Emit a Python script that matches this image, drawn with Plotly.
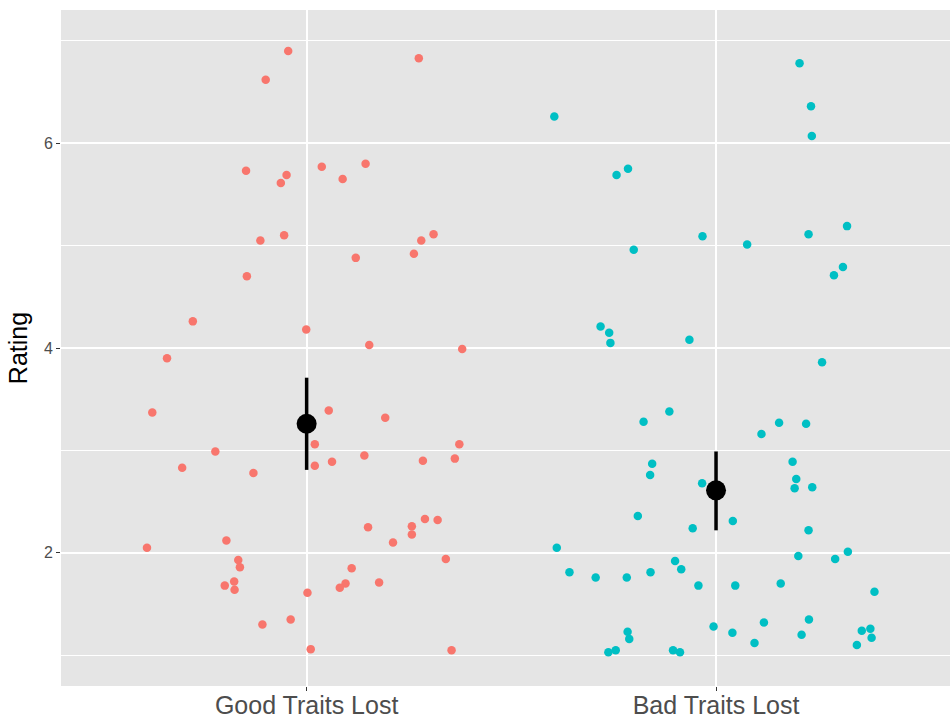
import plotly.graph_objects as go

categories = ["Good Traits Lost", "Bad Traits Lost"]
category_pos = [1, 2]

good_rating = [6.90, 6.83, 6.62, 5.73, 5.69, 5.61, 5.77, 5.80, 5.65, 5.10,
               5.05, 5.11, 5.05, 4.92, 4.88, 4.70, 4.26, 4.18, 3.90, 4.03,
               3.99, 3.37, 3.39, 3.32, 3.06, 2.99, 2.83, 2.85, 2.89, 2.78,
               3.06, 2.95, 2.90, 2.92, 2.05, 2.12, 1.93, 1.86, 1.72, 1.68,
               1.64, 1.85, 1.70, 1.66, 1.61, 1.35, 1.30, 1.06, 2.25, 2.10,
               2.26, 2.18, 2.33, 2.32, 1.94, 1.71, 1.05]
good_jitter = [-0.045, 0.274, -0.100, -0.148, -0.049, -0.063, 0.037, 0.144, 0.088, -0.055,
               -0.113, 0.310, 0.280, 0.262, 0.120, -0.146, -0.278, -0.001, -0.341, 0.153,
               0.380, -0.377, 0.054, 0.192, 0.020, -0.223, -0.304, 0.020, 0.062, -0.130,
               0.373, 0.141, 0.284, 0.362, -0.390, -0.196, -0.167, -0.163, -0.177, -0.200,
               -0.176, 0.110, 0.095, 0.081, 0.002, -0.039, -0.108, 0.010, 0.150, 0.211,
               0.257, 0.257, 0.289, 0.320, 0.340, 0.177, 0.354]

bad_rating = [6.26, 5.69, 5.75, 6.78, 6.36, 6.07, 5.19, 5.11, 5.09, 4.96,
              4.21, 4.15, 4.05, 3.28, 2.87, 2.76, 5.01, 4.79, 4.71, 4.08,
              3.86, 3.38, 3.27, 3.26, 3.16, 2.89, 2.36, 2.05, 1.81, 1.76,
              1.76, 1.81, 1.23, 1.16, 1.03, 1.05, 2.68, 2.72, 2.63, 2.64,
              2.24, 2.31, 2.22, 1.97, 1.94, 2.01, 1.92, 1.84, 1.68, 1.68,
              1.70, 1.62, 1.28, 1.22, 1.32, 1.35, 1.20, 1.12, 1.24, 1.26,
              1.17, 1.10, 1.05, 1.03]
bad_jitter = [-0.395, -0.243, -0.215, 0.204, 0.232, 0.234, 0.320, 0.226, -0.033, -0.201,
              -0.282, -0.261, -0.258, -0.177, -0.156, -0.161, 0.076, 0.310, 0.288, -0.065,
              0.259, -0.114, 0.154, 0.220, 0.111, 0.187, -0.191, -0.389, -0.358, -0.294,
              -0.218, -0.160, -0.216, -0.212, -0.263, -0.245, -0.034, 0.196, 0.192, 0.235,
              -0.057, 0.041, 0.226, 0.201, 0.291, 0.322, -0.100, -0.085, -0.043, 0.047,
              0.158, 0.387, -0.006, 0.040, 0.117, 0.227, 0.209, 0.094, 0.356, 0.377,
              0.380, 0.344, -0.105, -0.088]

mean_rating = [3.26, 2.61]
ci_low = [2.81, 2.22]
ci_high = [3.71, 2.99]

colors = ["#F8766D", "#00BFC4"]
font_family = "Liberation Sans, Arial, sans-serif"

fig = go.Figure()
for pos, ratings, jit, col in [(category_pos[0], good_rating, good_jitter, colors[0]),
                               (category_pos[1], bad_rating, bad_jitter, colors[1])]:
    fig.add_trace(go.Scatter(
        x=[pos + j for j in jit], y=ratings, mode="markers",
        marker=dict(color=col, size=8.5, line=dict(width=0)),
        showlegend=False, hoverinfo="y"))

fig.add_trace(go.Scatter(
    x=category_pos, y=mean_rating, mode="markers",
    marker=dict(color="black", size=20, line=dict(width=0)),
    error_y=dict(type="data", symmetric=False,
                 array=[h - m for h, m in zip(ci_high, mean_rating)],
                 arrayminus=[m - l for m, l in zip(mean_rating, ci_low)],
                 color="black", thickness=3.5, width=0),
    showlegend=False))

fig.update_layout(
    width=950, height=717,
    margin=dict(l=61, r=0, t=10, b=31),
    paper_bgcolor="white", plot_bgcolor="#E5E5E5",
    font=dict(family=font_family),
    xaxis=dict(range=[0.4, 2.5715], tickvals=category_pos, ticktext=categories,
               showgrid=True, gridcolor="white", gridwidth=2, zeroline=False,
               ticks="outside", ticklen=4, tickcolor="#333333", tickwidth=1.2,
               tickfont=dict(size=25, color="#4D4D4D", family=font_family),
               ticklabelstandoff=-7,
               automargin=False, showline=False),
    yaxis=dict(range=[0.7, 7.3], tickvals=[2, 4, 6], ticktext=["2", "4", "6"],
               showgrid=True, gridcolor="white", gridwidth=2, zeroline=False,
               ticks="outside", ticklen=4, tickcolor="#333333", tickwidth=1.2,
               tickfont=dict(size=16, color="#4D4D4D", family=font_family),
               minor=dict(tickvals=[1, 3, 5, 7], showgrid=True, gridcolor="white",
                          gridwidth=1, ticks=""),
               title=dict(text="Rating", font=dict(size=25, color="black", family=font_family),
                          standoff=9),
               automargin=False, showline=False),
)

fig.write_html("out.html", config={"displayModeBar": False},
               post_script="document.body.style.margin='0';")
